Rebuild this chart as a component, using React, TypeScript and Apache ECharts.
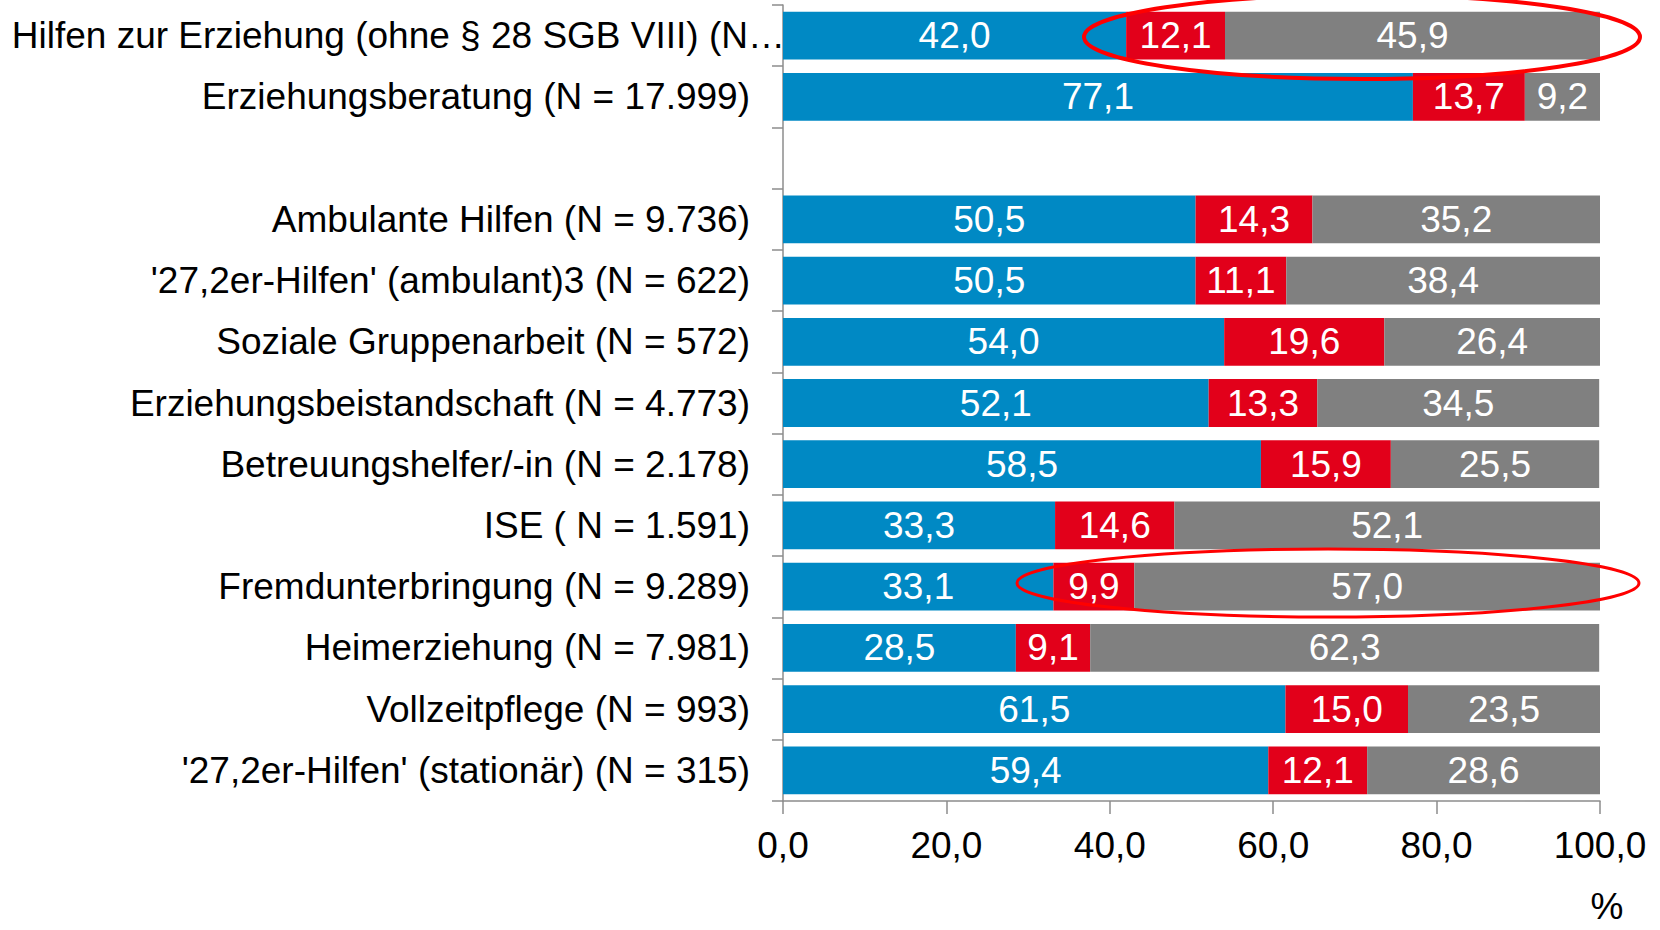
import React, { useEffect, useRef } from "react";
import * as echarts from "echarts";

const categories = [
  "Hilfen zur Erziehung (ohne § 28 SGB VIII) (N…",
  "Erziehungsberatung (N = 17.999)",
  "",
  "Ambulante Hilfen (N = 9.736)",
  "'27,2er-Hilfen' (ambulant)3 (N = 622)",
  "Soziale Gruppenarbeit (N = 572)",
  "Erziehungsbeistandschaft (N = 4.773)",
  "Betreuungshelfer/-in (N = 2.178)",
  "ISE ( N = 1.591)",
  "Fremdunterbringung (N = 9.289)",
  "Heimerziehung (N = 7.981)",
  "Vollzeitpflege (N = 993)",
  "'27,2er-Hilfen' (stationär) (N = 315)",
];

const blueValues = [42.0, 77.1, "-", 50.5, 50.5, 54.0, 52.1, 58.5, 33.3, 33.1, 28.5, 61.5, 59.4];
const redValues = [12.1, 13.7, "-", 14.3, 11.1, 19.6, 13.3, 15.9, 14.6, 9.9, 9.1, 15.0, 12.1];
const grayValues = [45.9, 9.2, "-", 35.2, 38.4, 26.4, 34.5, 25.5, 52.1, 57.0, 62.3, 23.5, 28.6];

const xTicks = { min: 0, max: 100, interval: 20 };
const unitLabel = "%";

const FONT = "'Liberation Sans', Arial, sans-serif";
const fmt = (v: number) => v.toFixed(1).replace(".", ",");

export default function App() {
  const ref = useRef<HTMLDivElement>(null);
  useEffect(() => {
    if (!ref.current) return;
    const chart = echarts.init(ref.current, undefined, { renderer: "svg" });
    const mkSeries = (name: string, data: any[], color: string) => ({
      name,
      type: "bar",
      stack: "total",
      data,
      barWidth: "78%",
      itemStyle: { color },
      label: {
        show: true,
        position: "inside",
        color: "#ffffff",
        fontSize: 37,
        fontFamily: FONT,
        formatter: (p: any) => fmt(p.value),
      },
    });
    chart.setOption({
      animation: false,
      textStyle: { fontFamily: FONT },
      grid: { left: 783, right: 60, top: 5, bottom: 129 },
      xAxis: {
        type: "value",
        min: xTicks.min,
        max: xTicks.max,
        interval: xTicks.interval,
        splitLine: { show: false },
        axisLine: { show: true, lineStyle: { color: "#8c8c8c", width: 1.5 } },
        axisTick: { show: true, length: 13, lineStyle: { color: "#8c8c8c", width: 1.5 } },
        axisLabel: {
          color: "#000",
          fontSize: 37,
          fontFamily: FONT,
          margin: 26,
          formatter: (v: number) => fmt(v),
        },
      },
      yAxis: {
        type: "category",
        data: categories,
        inverse: true,
        axisLine: { show: true, lineStyle: { color: "#8c8c8c", width: 1.5 } },
        axisTick: { show: true, length: 11, lineStyle: { color: "#8c8c8c", width: 1.5 } },
        axisLabel: {
          color: "#000",
          fontSize: 37,
          fontFamily: FONT,
          margin: -2,
          formatter: (v: string, i: number) => (i === 0 ? `{t|${v}}` : `{n|${v}}`),
          rich: {
            t: { fontSize: 37, fontFamily: FONT, color: "#000", padding: [0, 0, 0, 0] },
            n: { fontSize: 37, fontFamily: FONT, color: "#000", padding: [0, 35, 0, 0] },
          },
        },
      },
      series: [
        mkSeries("blau", blueValues, "#0089C4"),
        mkSeries("rot", redValues, "#E2001A"),
        mkSeries("grau", grayValues, "#808080"),
      ],
      graphic: [
        {
          type: "ellipse",
          shape: { cx: 1362, cy: 37, rx: 278, ry: 42 },
          style: { fill: "none", stroke: "#ff0000", lineWidth: 4 },
          z: 100,
        },
        {
          type: "ellipse",
          shape: { cx: 1328, cy: 583, rx: 311, ry: 34 },
          style: { fill: "none", stroke: "#ff0000", lineWidth: 3 },
          z: 100,
        },
        {
          type: "text",
          x: 1607,
          y: 906,
          style: {
            text: unitLabel,
            fontSize: 37,
            fontFamily: FONT,
            fill: "#000",
            textAlign: "center",
            textVerticalAlign: "middle",
          },
        },
      ],
    });
    return () => chart.dispose();
  }, []);
  return (
    <div
      ref={ref}
      style={{ position: "fixed", left: 0, top: 0, width: 1660, height: 930, background: "#fff" }}
    />
  );
}
